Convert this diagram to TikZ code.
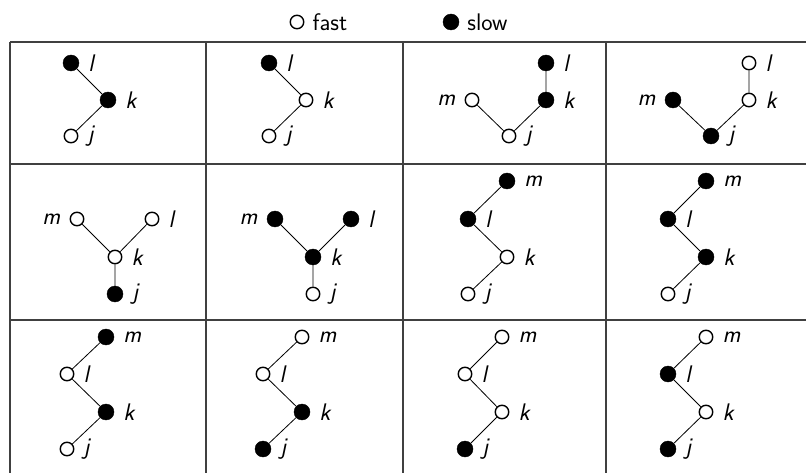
\documentclass[tikz,border=0pt]{standalone}
\begin{document}
\begin{tikzpicture}[x=1pt,y=-1pt,
  fastn/.style={circle,draw,fill=white,minimum size=13.5pt,inner sep=0pt,line width=1.4pt},
  slown/.style={circle,draw,fill=black,minimum size=16pt,inner sep=0pt},
  lbl/.style={font=\fontsize{24}{28}\selectfont\sffamily\itshape,inner sep=2pt},
  every label/.style={lbl},
  label distance=7pt,
  edge/.style={line width=0.8pt},
  grid/.style={line width=1.3pt,black!75},
  legtext/.style={font=\fontsize{24}{28}\selectfont\sffamily,inner sep=2pt,anchor=west}]
\useasboundingbox (0,0) rectangle (806,473);
% legend
\node[fastn] (lf) at (297,22) {};
\node[legtext] (lft) at ([xshift=6pt]lf.east) {fast};
\node[slown] (ls) at (451,22) {};
\node[legtext] (lst) at ([xshift=6pt]ls.east) {slow};
% grid
\coordinate (h1a) at (10,42); \coordinate (h1b) at (806,42);
\coordinate (h2a) at (10,164); \coordinate (h2b) at (806,164);
\coordinate (h3a) at (10,320); \coordinate (h3b) at (806,320);
\coordinate (v1a) at (10,42); \coordinate (v1b) at (10,473);
\coordinate (v2a) at (206,42); \coordinate (v2b) at (206,473);
\coordinate (v3a) at (403,42); \coordinate (v3b) at (403,473);
\coordinate (v4a) at (606,42); \coordinate (v4b) at (606,473);
\draw[grid] (h1a)--(h1b) (h2a)--(h2b) (h3a)--(h3b);
\draw[grid] (v1a)--(v1b) (v2a)--(v2b) (v3a)--(v3b) (v4a)--(v4b);
% cell 1
\node[slown,label=right:l] (a1l) at (71,63) {};
\node[slown,label=right:k] (a1k) at (108,100) {};
\node[fastn,label=right:j] (a1j) at (71,136) {};
\draw[edge] (a1l)--(a1k)--(a1j);
% cell 2
\node[slown,label=right:l] (a2l) at (269,63) {};
\node[fastn,label=right:k] (a2k) at (306,100) {};
\node[fastn,label=right:j] (a2j) at (269,136) {};
\draw[edge] (a2l)--(a2k)--(a2j);
% cell 3
\node[fastn,label=left:m] (a3m) at (472,100) {};
\node[fastn,label=right:j] (a3j) at (509,136) {};
\node[slown,label=right:k] (a3k) at (546,100) {};
\node[slown,label=right:l] (a3l) at (546,63) {};
\draw[edge] (a3m)--(a3j)--(a3k)--(a3l);
% cell 4
\node[slown,label=left:m] (a4m) at (673,100) {};
\node[slown,label=right:j] (a4j) at (711,136) {};
\node[fastn,label=right:k] (a4k) at (749,100) {};
\node[fastn,label=right:l] (a4l) at (749,63) {};
\draw[edge] (a4m)--(a4j)--(a4k)--(a4l);
% cell 5
\node[fastn,label=left:m] (b1m) at (77,219) {};
\node[fastn,label=right:l] (b1l) at (152,219) {};
\node[fastn,label=right:k] (b1k) at (115,257) {};
\node[slown,label=right:j] (b1j) at (115,294) {};
\draw[edge] (b1m)--(b1k) (b1l)--(b1k) (b1k)--(b1j);
% cell 6
\node[slown,label=left:m] (b2m) at (275,219) {};
\node[slown,label=right:l] (b2l) at (351,219) {};
\node[slown,label=right:k] (b2k) at (313,257) {};
\node[fastn,label=right:j] (b2j) at (313,294) {};
\draw[edge] (b2m)--(b2k) (b2l)--(b2k) (b2k)--(b2j);
% cell 7
\node[slown,label=right:m] (b3m) at (507,181) {};
\node[slown,label=right:l] (b3l) at (468,219) {};
\node[fastn,label=right:k] (b3k) at (507,257) {};
\node[fastn,label=right:j] (b3j) at (468,294) {};
\draw[edge] (b3m)--(b3l)--(b3k)--(b3j);
% cell 8
\node[slown,label=right:m] (b4m) at (706,181) {};
\node[slown,label=right:l] (b4l) at (668,219) {};
\node[slown,label=right:k] (b4k) at (706,257) {};
\node[fastn,label=right:j] (b4j) at (668,294) {};
\draw[edge] (b4m)--(b4l)--(b4k)--(b4j);
% cell 9
\node[slown,label=right:m] (c1m) at (106,337) {};
\node[fastn,label=right:l] (c1l) at (67,374) {};
\node[slown,label=right:k] (c1k) at (106,412) {};
\node[fastn,label=right:j] (c1j) at (67,449) {};
\draw[edge] (c1m)--(c1l)--(c1k)--(c1j);
% cell 10
\node[fastn,label=right:m] (c2m) at (302,337) {};
\node[fastn,label=right:l] (c2l) at (263,374) {};
\node[slown,label=right:k] (c2k) at (302,412) {};
\node[slown,label=right:j] (c2j) at (263,449) {};
\draw[edge] (c2m)--(c2l)--(c2k)--(c2j);
% cell 11
\node[fastn,label=right:m] (c3m) at (502,337) {};
\node[fastn,label=right:l] (c3l) at (465,374) {};
\node[fastn,label=right:k] (c3k) at (502,412) {};
\node[slown,label=right:j] (c3j) at (465,449) {};
\draw[edge] (c3m)--(c3l)--(c3k)--(c3j);
% cell 12
\node[fastn,label=right:m] (c4m) at (706,337) {};
\node[slown,label=right:l] (c4l) at (668,374) {};
\node[fastn,label=right:k] (c4k) at (706,412) {};
\node[slown,label=right:j] (c4j) at (668,449) {};
\draw[edge] (c4m)--(c4l)--(c4k)--(c4j);
\end{tikzpicture}
\end{document}
